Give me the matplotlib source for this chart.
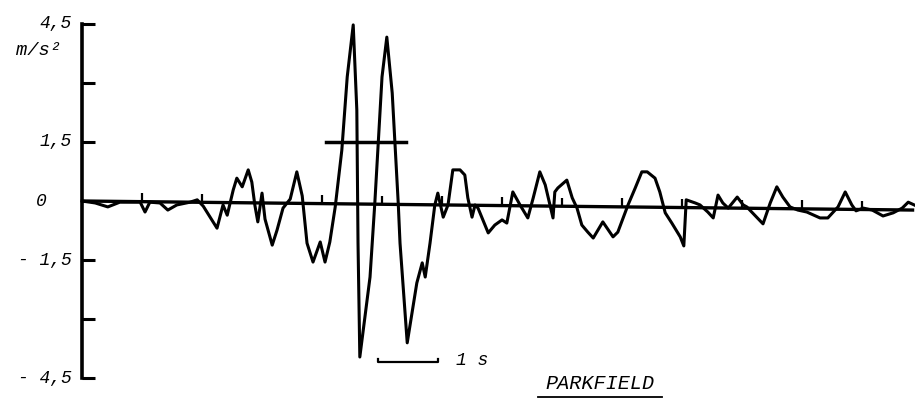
import numpy as np
import matplotlib
matplotlib.use("Agg")
import matplotlib.pyplot as plt

# waktu (s) dan percepatan (m/s^2)
waktu = [0.00, 0.22, 0.43, 0.63, 0.97, 1.05, 1.13, 1.30, 1.43, 1.58, 1.80, 1.92,
         2.02, 2.25, 2.35, 2.42, 2.52, 2.58, 2.67, 2.77, 2.83, 2.88, 2.93, 3.00,
         3.05, 3.17, 3.25, 3.35, 3.47, 3.58, 3.67, 3.75, 3.85, 3.97, 4.05, 4.13,
         4.22, 4.33, 4.42, 4.52, 4.58, 4.60, 4.63, 4.80, 4.88, 5.00, 5.08, 5.17,
         5.27, 5.30, 5.42, 5.58, 5.67, 5.72, 5.80, 5.88, 5.93, 6.02, 6.10, 6.18,
         6.30, 6.38, 6.43, 6.50, 6.55, 6.60, 6.77, 6.88, 7.00, 7.08, 7.18, 7.30,
         7.43, 7.52, 7.63, 7.72, 7.80, 7.85, 7.88, 7.93, 8.08, 8.17, 8.25, 8.33,
         8.43, 8.52, 8.68, 8.85, 8.93, 9.10, 9.22, 9.33, 9.42, 9.55, 9.63, 9.72,
         9.83, 9.97, 10.03, 10.07, 10.22, 10.30, 10.43, 10.52, 10.60, 10.68, 10.77,
         10.92, 11.02, 11.08, 11.35, 11.47, 11.58, 11.68, 11.80, 11.93, 12.08,
         12.30, 12.43, 12.60, 12.72, 12.83, 12.90, 13.02, 13.17, 13.35, 13.52,
         13.67, 13.77, 13.87]
percepatan = [0.00, -0.05, -0.15, -0.03, -0.03, -0.28, -0.03, -0.05, -0.23, -0.10, -0.03, 0.03,
              -0.13, -0.69, -0.10, -0.36, 0.28, 0.58, 0.36, 0.79, 0.48, -0.10, -0.53, 0.20,
              -0.46, -1.12, -0.74, -0.18, 0.05, 0.74, 0.13, -1.07, -1.55, -1.04, -1.55, -1.04,
              -0.15, 1.29, 3.15, 4.47, 2.31, -1.07, -3.96, -1.93, -0.05, 3.15, 4.16, 2.74,
              -0.05, -1.07, -3.60, -2.08, -1.57, -1.93, -1.07, -0.10, 0.20, -0.41, -0.10, 0.79,
              0.79, 0.66, 0.08, -0.41, -0.10, -0.18, -0.81, -0.61, -0.48, -0.56, 0.23, -0.10,
              -0.43, 0.08, 0.74, 0.41, -0.10, -0.43, 0.23, 0.33, 0.53, 0.08, -0.18, -0.61,
              -0.79, -0.94, -0.53, -0.91, -0.79, -0.10, 0.33, 0.74, 0.74, 0.58, 0.23, -0.30,
              -0.56, -0.91, -1.14, 0.03, -0.05, -0.10, -0.28, -0.43, 0.15, -0.05, -0.18,
              0.10, -0.10, -0.15, -0.58, -0.05, 0.36, 0.10, -0.15, -0.23, -0.28,
              -0.43, -0.43, -0.15, 0.23, -0.10, -0.25, -0.18, -0.23, -0.38, -0.30,
              -0.18, -0.03, -0.10]

# sumbu y
nilai_tick = [-4.5, -3.0, -1.5, 0.0, 1.5, 3.0, 4.5]
label_tick = ["- 4,5", "", "- 1,5", "0", "1,5", "", "4,5"]

# garis dasar (sedikit miring pada hasil scan)
garis_dasar_t = [0.0, 13.87]
garis_dasar_a = [0.0, -0.23]
detik_tick = list(range(1, 14))

ambang = 1.5
ambang_t = [4.07, 5.40]

hitam = "#000000"
huruf = dict(family=["Liberation Mono", "DejaVu Sans Mono"], style="italic", color=hitam)

fig = plt.figure(figsize=(9.15, 4.05), dpi=100)
ax = fig.add_axes([0, 0, 1, 1])
ax.set_xlim(-1.367, 13.883)
ax.set_ylim(-5.178, 5.102)

for s in ["top", "right", "bottom"]:
    ax.spines[s].set_visible(False)
ax.spines["left"].set_position(("data", 0))
ax.spines["left"].set_bounds(-4.5, 4.5)
ax.spines["left"].set_linewidth(2.6)
ax.spines["left"].set_color(hitam)
ax.set_xticks([])
ax.set_yticks(nilai_tick)
ax.tick_params(axis="y", direction="in", length=9, width=2.2, color=hitam,
               labelleft=False)

# label sumbu y
for v, lab in zip(nilai_tick, label_tick):
    if lab == "0":
        ax.text(-0.68, v, lab, ha="center", va="center", fontsize=13, **huruf)
    elif lab:
        ax.text(-0.17, v, lab, ha="right", va="center", fontsize=13, **huruf)
ax.text(-0.72, 3.83, "m/s²", ha="center", va="center", fontsize=13.5, **huruf)

# garis dasar dan tanda detik
ax.plot(garis_dasar_t, garis_dasar_a, color=hitam, lw=2.4, solid_capstyle="butt")
dasar = np.interp(detik_tick, garis_dasar_t, garis_dasar_a)
ax.vlines(detik_tick, dasar, dasar + 0.22, color=hitam, lw=1.6)

# ambang 1,5
ax.plot(ambang_t, [ambang, ambang], color=hitam, lw=2.5)

# sinyal percepatan
ax.plot(waktu, percepatan, color=hitam, lw=2.2, solid_joinstyle="round")

# skala 1 s
ax.plot([4.93, 4.93, 5.93, 5.93], [-4.0, -4.09, -4.09, -4.0], color=hitam, lw=1.6)
ax.text(6.23, -4.04, "1 s", ha="left", va="center", fontsize=13, **huruf)

# judul
ax.text(8.63, -4.64, "PARKFIELD", ha="center", va="center", fontsize=14.5, **huruf)
ax.plot([7.6, 9.67], [-4.97, -4.97], color=hitam, lw=1.3)

fig.savefig("out.png", dpi=100)
